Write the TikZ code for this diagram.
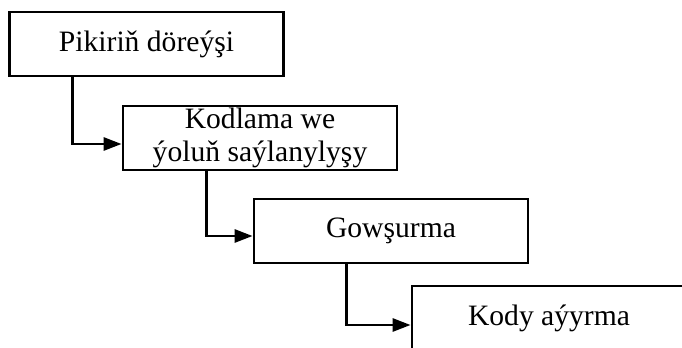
\documentclass[tikz,border=0pt]{standalone}
\usepackage{fontspec}
\setmainfont{Liberation Serif}
\usepackage{tikz}
\usetikzlibrary{calc,arrows.meta}

\begin{document}
\begin{tikzpicture}[x=0.5pt,y=-0.5pt,>={Triangle[length=9pt,width=6.5pt]},line width=1.4pt,
	box/.style={draw,minimum width=137pt,minimum height=32pt,inner sep=0pt,align=center,
		font=\fontsize{14.8}{16.5}\selectfont}]
			\useasboundingbox (0,0) rectangle (682,348);
			\clip (0,0) rectangle (682,348);
			
			\node[box] (b1) at (146.5,44) {Pikiriň döreýşi};
			\node[box] (b2) at (260,138) {Kodlama we\\ýoluň saýlanylyşy};
			\node[box] (b3) at (391,231) {Gowşurma};
			\node[box] (b4) at (549,318) {Kody aýyrma};
			
			% steps
			\draw[->] ([xshift=32pt]b1.south west) |- ([yshift=-3pt]b2.west);
			\draw[->] ([xshift=42.5pt]b2.south west) |- ([yshift=-2.5pt]b3.west);
			\draw[->] ([xshift=47pt]b3.south west) |- ([yshift=-3.5pt]b4.west);
		\end{tikzpicture}
\end{document}
